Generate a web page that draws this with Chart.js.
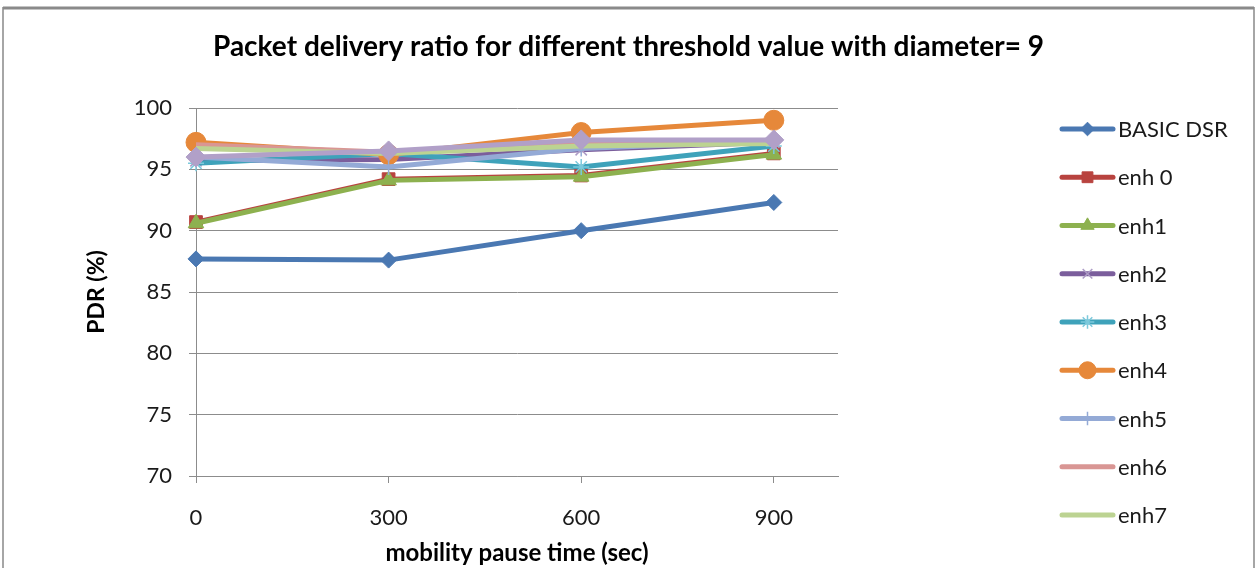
<!DOCTYPE html>
<html>
<head>
<meta charset="utf-8">
<script src="https://cdn.jsdelivr.net/npm/chart.js@4.4.1/dist/chart.umd.min.js"></script>
<style>
  body { margin: 0; background: #fff; }
  #caja { width: 1257px; height: 568px; }
</style>
</head>
<body>
<div id="caja"><canvas id="grafico" width="1257" height="568"></canvas></div>
<script>
// datos
const pausa = [0, 300, 600, 900];
const ticksY = [70, 75, 80, 85, 90, 95, 100];
const nombres = ['BASIC DSR', 'enh 0', 'enh1', 'enh2', 'enh3', 'enh4', 'enh5', 'enh6', 'enh7', 'enh8'];

const basicDsr = [87.7, 87.6, 90.0, 92.3];
const enh0 = [90.7, 94.2, 94.5, 96.3];
const enh1 = [90.6, 94.1, 94.4, 96.2];
const enh2 = [95.7, 95.8, 96.6, 97.2];
const enh3 = [95.5, 96.3, 95.2, 96.9];
const enh4 = [97.2, 96.2, 98.0, 99.0];
const enh5 = [96.0, 95.2, 96.7, 97.3];
const enh6 = [97.0, 96.4, 97.2, 97.3];
const enh7 = [96.7, 96.3, 96.9, 97.1];
const enh8 = [96.0, 96.5, 97.4, 97.4];

const series = [basicDsr, enh0, enh1, enh2, enh3, enh4, enh5, enh6, enh7, enh8];

// estilo de cada serie (color linea, color marca, forma, radio)
const estilos = [
  ['#4a78b2', '#4a78b2', 'rectRot', 8],
  ['#b8433f', '#b8433f', 'rect', 9],
  ['#8db14f', '#8db14f', 'triangle', 9],
  ['#7b5e9c', '#ad9cc6', 'crossRot', 8],
  ['#3ea2ba', '#7cc9dc', 'star', 8],
  ['#e6883a', '#e6883a', 'circle', 10],
  ['#94aad6', '#94aad6', 'cross', 8],
  ['#d99694', '#d99694', 'circle', 0],
  ['#bcd392', '#bcd392', 'circle', 0],
  ['#b1a0c8', '#b1a0c8', 'rectRot', 10]
];

const FUENTE = 'Lato, "Open Sans", sans-serif';

const datasets = series.map((vals, i) => {
  const [linea, marca, forma, radio] = estilos[i];
  const soloTrazo = (forma === 'crossRot' || forma === 'star' || forma === 'cross');
  return {
    label: nombres[i],
    data: vals.map((v, j) => ({ x: pausa[j], y: v })),
    borderColor: linea,
    borderWidth: 5,
    tension: 0,
    pointStyle: forma,
    pointRadius: radio,
    pointHoverRadius: radio,
    pointBackgroundColor: marca,
    pointBorderColor: marca,
    pointBorderWidth: soloTrazo ? 1.5 : 1,
    clip: false,
    order: series.length - i,
    enLeyenda: i < 9
  };
});

const marco = {
  id: 'marco',
  beforeDraw(chart) {
    const ctx = chart.ctx;
    ctx.save();
    ctx.fillStyle = '#fff';
    ctx.fillRect(0, 0, chart.width, chart.height);
    ctx.strokeStyle = '#a6a6a6';
    ctx.lineWidth = 2;
    ctx.strokeRect(3, 8, 1251, 600);
    ctx.strokeStyle = '#8a8a8a';
    ctx.lineWidth = 3;
    ctx.beginPath();
    ctx.moveTo(3, 8);
    ctx.lineTo(1254, 8);
    ctx.stroke();
    ctx.restore();
  }
};

const leyenda = {
  id: 'leyenda',
  afterDraw(chart) {
    const ctx = chart.ctx;
    ctx.save();
    chart.data.datasets.forEach((ds, i) => {
      if (!ds.enLeyenda) return;
      const y = 129 + i * 48.25;
      ctx.strokeStyle = ds.borderColor;
      ctx.lineWidth = 5;
      ctx.lineCap = 'round';
      ctx.beginPath();
      ctx.moveTo(1062, y);
      ctx.lineTo(1113, y);
      ctx.stroke();
      if (ds.pointRadius > 0) {
        ctx.fillStyle = ds.pointBackgroundColor;
        ctx.strokeStyle = ds.pointBorderColor;
        ctx.lineWidth = ds.pointBorderWidth;
        ctx.lineCap = 'butt';
        Chart.helpers.drawPoint(ctx, {
          pointStyle: ds.pointStyle,
          radius: ds.pointRadius * 0.85,
          rotation: 0,
          borderWidth: ds.pointBorderWidth
        }, 1087.5, y);
      }
      ctx.fillStyle = '#1a1a1a';
      ctx.font = '22px ' + FUENTE;
      ctx.textBaseline = 'middle';
      ctx.textAlign = 'left';
      ctx.fillText(ds.label, 1118, y + 1);
    });
    ctx.restore();
  }
};

const ctx = document.getElementById('grafico');

new Chart(ctx, {
  type: 'line',
  data: { datasets: datasets },
  options: {
    responsive: false,
    animation: false,
    events: [],
    layout: { padding: 0 },
    plugins: {
      legend: { display: false },
      tooltip: { enabled: false },
      title: {
        display: true,
        text: 'Packet delivery ratio for different threshold value with diameter= 9',
        color: '#000',
        font: { family: FUENTE, size: 28, weight: 'bold' },
        padding: { top: 30, bottom: 44.4 }
      }
    },
    scales: {
      x: {
        type: 'linear',
        min: 0,
        max: 1000,
        afterBuildTicks: s => { s.ticks = pausa.map(v => ({ value: v })); },
        afterFit: s => { s.height = 92; },
        grid: { drawOnChartArea: false, drawTicks: true, tickLength: 7, color: '#8c8c8c' },
        border: { color: '#8c8c8c' },
        ticks: { color: '#1a1a1a', padding: 22, maxRotation: 0, font: { family: FUENTE, size: 22 } },
        title: {
          display: true,
          text: 'mobility pause time (sec)',
          color: '#000',
          font: { family: FUENTE, size: 24, weight: 'bold' },
          padding: { top: 0, bottom: 0 }
        }
      },
      y: {
        min: 70,
        max: 100,
        afterBuildTicks: s => { s.ticks = ticksY.map(v => ({ value: v })); },
        afterFit: s => { s.width = 196; },
        grid: { color: '#8c8c8c', drawTicks: true, tickLength: 7 },
        border: { color: '#8c8c8c' },
        ticks: { color: '#1a1a1a', padding: 17, font: { family: FUENTE, size: 22 } },
        title: {
          display: true,
          text: 'PDR (%)',
          color: '#000',
          font: { family: FUENTE, size: 23, weight: 'bold' },
          padding: { top: 83, bottom: 0 }
        }
      },
      derecha: {
        position: 'right',
        display: true,
        grid: { display: false },
        border: { display: false },
        ticks: { display: false },
        afterFit: s => { s.width = 419; }
      }
    }
  },
  plugins: [marco, leyenda]
});
</script>
</body>
</html>
